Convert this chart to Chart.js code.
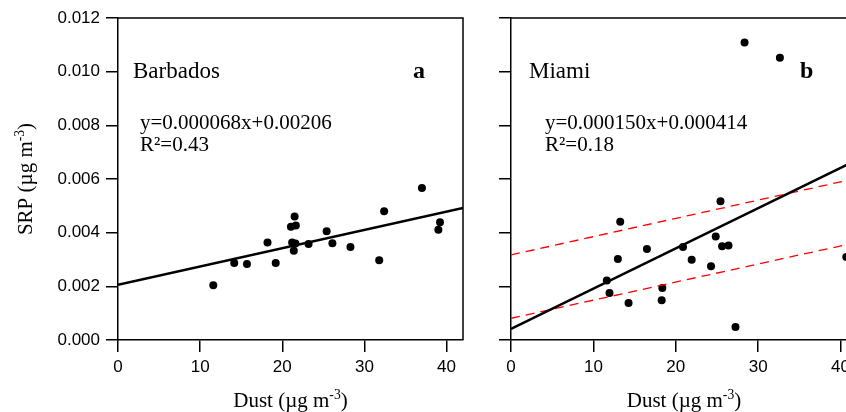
<!DOCTYPE html>
<html>
<head>
<meta charset="utf-8">
<script src="https://cdn.jsdelivr.net/npm/chart.js@4.4.1/dist/chart.umd.min.js"></script>
<style>
  html, body { margin: 0; padding: 0; background: #fff; overflow: hidden; }
  body { width: 846px; height: 412px; position: relative; }
  canvas { position: absolute; top: 0; }
  #barbadosChart { left: 0; }
  #miamiChart { left: 481px; }
</style>
</head>
<body>
<canvas id="barbadosChart" width="480" height="412"></canvas>
<canvas id="miamiChart" width="400" height="412"></canvas>
<script>
// axis ticks
const xTickValues = [0, 10, 20, 30, 40];
const yTickValues = [0, 0.002, 0.004, 0.006, 0.008, 0.010, 0.012];

// Barbados (panel a)
const barbadosDust = [11.6, 14.15, 15.7, 18.2, 19.2, 21.05, 21.5, 21.65, 21.2, 21.6, 21.4, 23.2, 25.4, 26.1, 28.3, 31.8, 32.4, 37.0, 39.2, 39.0];
const barbadosSrp = [0.00204, 0.00287, 0.00283, 0.00363, 0.00287, 0.00422, 0.00460, 0.00427, 0.00363, 0.00360, 0.00333, 0.00358, 0.00405, 0.00361, 0.00347, 0.00297, 0.00480, 0.00566, 0.00439, 0.00411];

// Miami (panel b)
const miamiDust = [11.63, 11.96, 12.97, 13.26, 14.27, 16.5, 18.37, 18.29, 20.88, 21.93, 24.28, 24.85, 25.43, 25.62, 26.4, 27.25, 40.7, 28.35, 32.64];
const miamiSrp = [0.00222, 0.00175, 0.00302, 0.00441, 0.00138, 0.00339, 0.00194, 0.00148, 0.00347, 0.00299, 0.00275, 0.00386, 0.00517, 0.00349, 0.00352, 0.00048, 0.00309, 0.01109, 0.01052];

// fitted / bound lines, read at the two ends of the x range
const lineDust = [0, 42];
const barbadosFit = [0.00206, 0.00492];
const miamiFit = [0.000414, 0.006714];
const miamiUpper = [0.00317, 0.00603];
const miamiLower = [0.00081, 0.00364];

const tickFont = { family: "'Liberation Sans', Arial, sans-serif", size: 17 };
const serif = "'Liberation Serif', 'Times New Roman', serif";

function toPoints(xs, ys) {
    return xs.map((x, i) => ({ x: x, y: ys[i] }));
}

// draws text made of [text, isSuperscript] parts
function drawRich(ctx, parts, x, y, size, align) {
    let total = 0;
    parts.forEach(p => {
        ctx.font = (p[1] ? size * 0.65 : size) + "px " + serif;
        total += ctx.measureText(p[0]).width;
    });
    let cx = align === "center" ? x - total / 2 : x;
    ctx.textAlign = "left";
    ctx.textBaseline = "alphabetic";
    parts.forEach(p => {
        ctx.font = (p[1] ? size * 0.65 : size) + "px " + serif;
        ctx.fillText(p[0], cx, p[1] ? y - size * 0.38 : y);
        cx += ctx.measureText(p[0]).width;
    });
}

const unitParts = [["(\u00b5g m", false], ["-3", true], [")", false]];

function panelPlugin(cfg) {
    return {
        id: "panel_" + cfg.name,
        afterDraw(chart) {
            const ctx = chart.ctx;
            const a = chart.chartArea;
            ctx.save();
            // frame top / right
            ctx.strokeStyle = "#000";
            ctx.lineWidth = 1.5;
            ctx.beginPath();
            ctx.moveTo(a.left, a.top);
            ctx.lineTo(a.right, a.top);
            ctx.lineTo(a.right, a.bottom);
            ctx.stroke();

            ctx.fillStyle = "#000";
            ctx.textBaseline = "alphabetic";
            ctx.textAlign = "left";
            ctx.font = "23px " + serif;
            ctx.fillText(cfg.name, a.left + cfg.nameX, a.top + 60);

            ctx.font = "bold 24px " + serif;
            ctx.fillText(cfg.letter, a.left + cfg.letterX, a.top + 60);

            ctx.font = "21px " + serif;
            ctx.fillText(cfg.equation, a.left + cfg.eqX, a.top + 111);
            ctx.fillText(cfg.r2, a.left + cfg.eqX, a.top + 133);

            // x axis title
            drawRich(ctx, [["Dust ", false]].concat(unitParts), (a.left + a.right) / 2, 407, 21, "center");

            // y axis title
            if (cfg.yTitle) {
                ctx.translate(32, (a.top + a.bottom) / 2);
                ctx.rotate(-Math.PI / 2);
                drawRich(ctx, [["SRP ", false]].concat(unitParts), 0, 0, 21, "center");
            }
            ctx.restore();
        }
    };
}

function makeChart(canvasId, dust, srp, lines, yWidth, padRight, showYLabels, cfg) {
    const datasets = [{
        label: cfg.name,
        data: toPoints(dust, srp),
        pointRadius: 4,
        pointBackgroundColor: "#000",
        pointBorderWidth: 0,
        showLine: false,
        order: 2
    }];
    lines.forEach(l => {
        datasets.push({
            data: toPoints(lineDust, l.y),
            showLine: true,
            pointRadius: 0,
            borderColor: l.color,
            borderWidth: l.width,
            borderDash: l.dash,
            fill: false,
            order: 1
        });
    });

    return new Chart(document.getElementById(canvasId), {
        type: "scatter",
        data: { datasets: datasets },
        options: {
            responsive: false,
            animation: false,
            layout: { padding: { top: 18, right: padRight, left: 0, bottom: 0 } },
            plugins: {
                legend: { display: false },
                tooltip: { enabled: false }
            },
            scales: {
                x: {
                    type: "linear",
                    min: 0,
                    max: 42,
                    afterBuildTicks: axis => { axis.ticks = xTickValues.map(v => ({ value: v })); },
                    afterFit: scale => { scale.height = 72; },
                    grid: { drawOnChartArea: false, tickLength: 12, color: "#000", lineWidth: 1.5 },
                    border: { color: "#000", width: 1.5 },
                    ticks: { font: tickFont, color: "#000", padding: 5, maxRotation: 0 }
                },
                y: {
                    type: "linear",
                    min: 0,
                    max: 0.012,
                    afterBuildTicks: axis => { axis.ticks = yTickValues.map(v => ({ value: v })); },
                    afterFit: scale => { scale.width = yWidth; },
                    grid: { drawOnChartArea: false, tickLength: 12, color: "#000", lineWidth: 1.5 },
                    border: { color: "#000", width: 1.5 },
                    ticks: {
                        display: showYLabels,
                        font: tickFont,
                        color: "#000",
                        padding: 6,
                        callback: v => v.toFixed(3)
                    }
                }
            }
        },
        plugins: [panelPlugin(cfg)]
    });
}

makeChart("barbadosChart", barbadosDust, barbadosSrp,
    [{ y: barbadosFit, color: "#000", width: 2.5, dash: [] }],
    118, 17, true,
    { name: "Barbados", letter: "a", nameX: 15, letterX: 295, eqX: 22,
      equation: "y=0.000068x+0.00206", r2: "R\u00b2=0.43", yTitle: true });

makeChart("miamiChart", miamiDust, miamiSrp,
    [{ y: miamiFit, color: "#000", width: 2.5, dash: [] },
     { y: miamiUpper, color: "#ff0000", width: 1.3, dash: [9, 6] },
     { y: miamiLower, color: "#ff0000", width: 1.3, dash: [9, 6] }],
    30, 24, false,
    { name: "Miami", letter: "b", nameX: 18, letterX: 289, eqX: 34,
      equation: "y=0.000150x+0.000414", r2: "R\u00b2=0.18", yTitle: false });
</script>
</body>
</html>
